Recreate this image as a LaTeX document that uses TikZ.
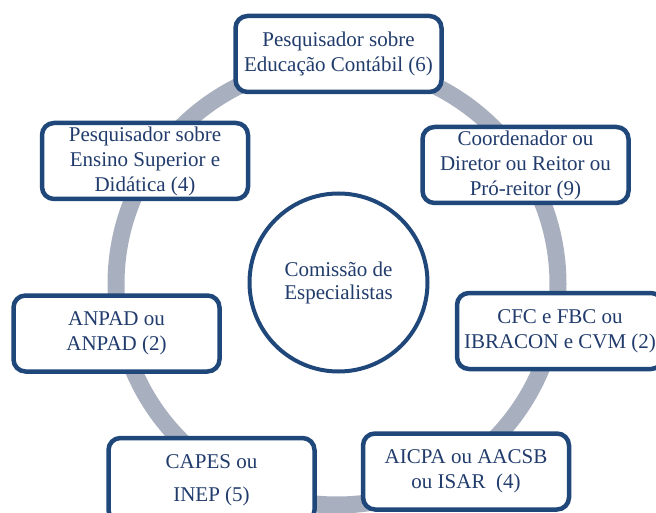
\documentclass[tikz,border=0pt]{standalone}
\usepackage{fontspec}
\setmainfont{Liberation Serif}
\definecolor{boxblue}{RGB}{31,71,122}
\definecolor{textblue}{RGB}{33,60,108}
\definecolor{ringgray}{RGB}{168,175,191}

\begin{document}
\begin{tikzpicture}[x=1pt,y=-1pt,
		member/.style={draw=boxblue,line width=4.5pt,rounded corners=12pt,fill=white,
			text=textblue,align=center,minimum width=206pt,minimum height=76pt,inner sep=2pt,
			font=\fontsize{21}{25}\selectfont},
		commission/.style={circle,draw=boxblue,line width=4pt,fill=white,text=textblue,
			align=center,minimum size=178pt,font=\fontsize{21}{23}\selectfont}]
		\useasboundingbox (0,0) rectangle (656,513);
		
		% Ring
		\draw[ringgray,line width=17pt] (337,284) circle [radius=221pt];
		
		% Members
		\node[member] (educ) at (338.5,54) {Pesquisador sobre\\Educação Contábil (6)};
		\node[member] (coord) at (525.5,165) {Coordenador ou\\Diretor ou Reitor ou\\Pró-reitor (9)};
		\node[member] (ensino) at (145,161) {Pesquisador sobre\\Ensino Superior e\\Didática (4)};
		\node[member] (anpad) at (116.5,333.5) {ANPAD ou\\ANPAD (2)};
		\node[member] (cfc) at (560,331) {CFC e FBC ou\\IBRACON e CVM (2)};
		\node[member,minimum height=84pt] (capes) at (211.5,480) {CAPES ou\\[8pt]INEP (5)};
		\node[member] (aicpa) at (466,471.5) {AICPA ou AACSB\\ou ISAR\ \ (4)};
		
		% Center
		\node[commission] (com) at (338.5,282.5) {Comissão de\\Especialistas};
		\end{tikzpicture}
\end{document}
